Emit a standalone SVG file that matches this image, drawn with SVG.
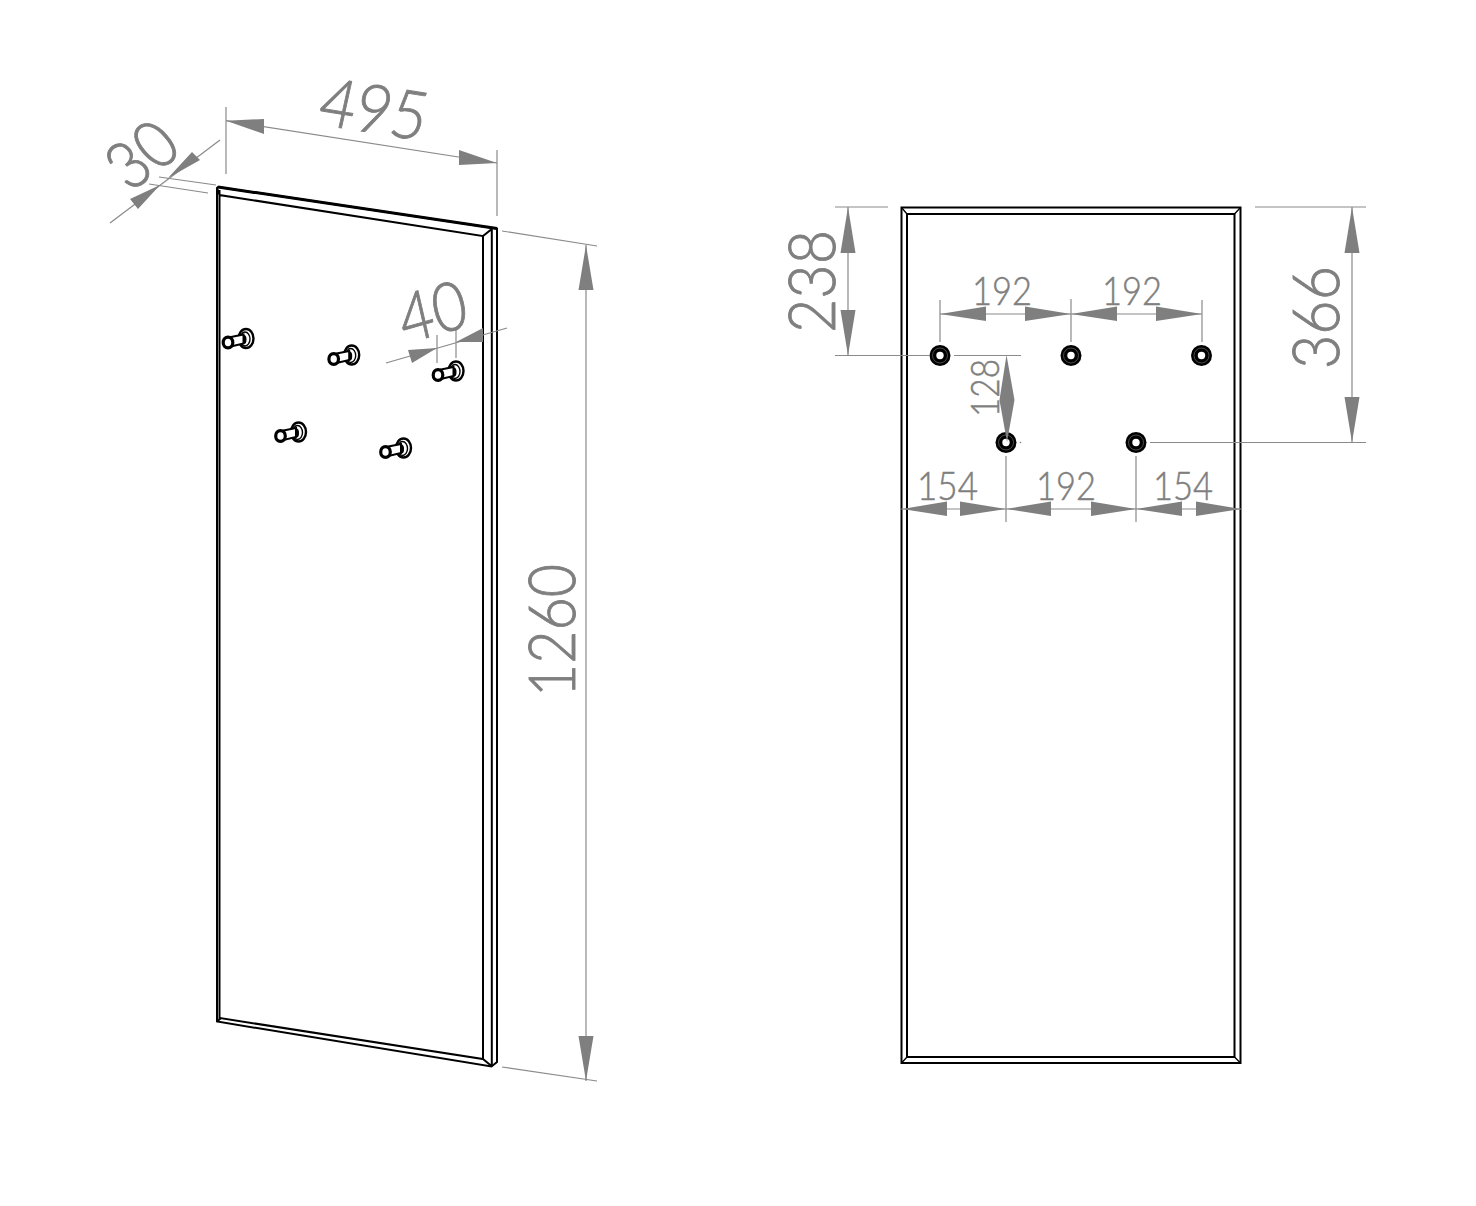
<svg xmlns="http://www.w3.org/2000/svg" width="1476" height="1206" viewBox="0 0 1476 1206">
<style>
.e{fill:none;stroke:#000;stroke-width:2;stroke-linejoin:miter}
.t{fill:none;stroke:#000;stroke-width:1.3}
.d{fill:none;stroke:#8a8a8a;stroke-width:1.2}
.a{fill:#7f7f7f;stroke:none}
text{font-family:"Lato","Open Sans",sans-serif;font-weight:300;fill:#7f7f7f;stroke:#7f7f7f}
.s{font-size:39px;stroke-width:.5px}
.b{font-size:66px;stroke-width:.9px}
.k{fill:#fff;stroke:#000;stroke-width:2.4}
</style>
<defs>
<g id="hook">
<ellipse class="k" cx="0" cy="0" rx="7.500" ry="9.500"/>
<ellipse cx="-1" cy="0.500" rx="5" ry="7" fill="none" stroke="#000" stroke-width="1.400"/>
<ellipse cx="-2" cy="1" rx="2.500" ry="4.500" fill="#000"/>
<path d="M-15 -1.500 L-2.500 -4 L-2.500 5 L-15 8 Z" fill="#fff" stroke="#000" stroke-width="2"/>
<ellipse cx="-18" cy="4" rx="4.800" ry="5.400" fill="#fff" stroke="#000" stroke-width="3.200"/>
</g>
<g id="hole">
<circle r="10.500" fill="#000"/>
<circle r="7.500" fill="none" stroke="#999" stroke-width=".5"/>
<circle r="3.700" fill="#fff"/>
</g>
</defs>
<g id="panel-perspective">
<path class="e" d="M217 188 L218 187 L497 228.500 V1062 L491.500 1066.500 L217 1021.500 Z"/>
<path class="e" style="stroke-width:3" d="M218 187 L497 228.500"/>
<path class="t" style="stroke-width:2" d="M219.500 190 V1018 L483 1059 V236 L219.500 195 L217 188"/>
<path class="t" style="stroke-width:2" d="M491.800 229 V1066 M483 236 L491.800 229 M483 1059 L491.500 1066 M217 1021.500 L221 1018"/>
</g>
<g id="hook-1"><use href="#hook" x="246" y="338.500"/></g>
<g id="hook-2"><use href="#hook" x="351.700" y="355"/></g>
<g id="hook-3"><use href="#hook" x="456" y="371"/></g>
<g id="hook-4"><use href="#hook" x="298.500" y="432"/></g>
<g id="hook-5"><use href="#hook" x="403.500" y="448"/></g>
<g id="panel-front">
<rect class="e" x="901.500" y="207.500" width="339" height="855.500"/>
<rect class="e" x="907" y="214" width="327.500" height="843"/>
<path class="t" d="M901.500 207.500 L907 214 M1240.500 207.500 L1234.500 214 M901.500 1063 L907 1057 M1240.500 1063 L1234.500 1057"/>
</g>
<g id="hole-1"><use href="#hole" x="940" y="355.500"/></g>
<g id="hole-2"><use href="#hole" x="1071" y="355.500"/></g>
<g id="hole-3"><use href="#hole" x="1201.500" y="355.500"/></g>
<g id="hole-4"><use href="#hole" x="1006" y="442.500"/></g>
<g id="hole-5"><use href="#hole" x="1136" y="442.500"/></g>
<g id="connectors">
<path class="d" d="M226 107 V174 M497 150 V216 M226 120.700 L497 163"/>
<path class="a" d="M226 120.700 L264 119 V134 Z M497 163 L459 150 V165 Z"/>
<path class="d" d="M110 223 L220 140 M159 177 L216 185 M149 184 L208 193"/>
<path class="a" d="M160 185 L130 199 L138 209 Z M168 178 L192 152 L200 160 Z"/>
<path class="d" d="M502 231 L597 246 M502 1067 L597 1081 M586 245 V1081"/>
<path class="a" d="M586 245 L593.500 290 H578.500 Z M586 1081 L578.500 1036 H593.500 Z"/>
<path class="d" d="M386 363 L507 328 M437 335 V363 M456 330 V358"/>
<path class="a" d="M437 348 L408 350 L412 363 Z M456 342 L483 328 V342 Z"/>
<path class="d" d="M835 207 H888 M835 355.500 H930 M954 355.500 H1021 M848 207 V355 M1255 207 H1366 M1150 442.500 H1366 M1352 207 V442"/>
<path class="a" d="M848 207 L855.500 253 H840.500 Z M848 355.500 L840.500 310 H855.500 Z M1352 207 L1359.500 253 H1344.500 Z M1352 442.500 L1344.500 397 H1359.500 Z"/>
<path class="d" d="M940 300 V342 M1071 299 V342 M1202 300 V342 M940 314 H1202"/>
<path class="a" d="M940 314 L986 306.500 V321 Z M1071 314 L1025 306.500 V321 Z M1071 314 L1117 306.500 V321 Z M1202 314 L1156 306.500 V321 Z"/>
<path class="a" d="M1006.500 355 L1014.500 400 L1007 442 L999.500 400 Z"/>
<circle class="a" cx="1020.500" cy="442.500" r="0.800"/>
<path class="d" d="M1006 456 V522 M1136 456 V522 M901 509 H1241"/>
<path class="a" d="M902 509 L947 501.500 V516 Z M1006 509 L960 501.500 V516 Z M1006 509 L1051 501.500 V516 Z M1136 509 L1091 501.500 V516 Z M1136 509 L1182 501.500 V516 Z M1241 509 L1196 501.500 V516 Z"/>
</g>
<g id="labels">
<text class="b" transform="matrix(1 .158 -.22 1 316 124)" textLength="106" lengthAdjust="spacingAndGlyphs">495</text>
<text class="b" transform="matrix(.8 -.6 .67 .77 130 193)" textLength="68" lengthAdjust="spacingAndGlyphs">30</text>
<text class="b" transform="matrix(.97 -.27 .23 1 405 344)" textLength="68" lengthAdjust="spacingAndGlyphs">40</text>
<text class="b" transform="translate(575 697) rotate(-90)" textLength="133" lengthAdjust="spacingAndGlyphs">1260</text>
<text class="b" transform="translate(835 333) rotate(-90)" textLength="103" lengthAdjust="spacingAndGlyphs">238</text>
<text class="b" transform="translate(1339 369) rotate(-90)" textLength="103" lengthAdjust="spacingAndGlyphs">366</text>
<text class="s" x="972" y="305" textLength="60" lengthAdjust="spacingAndGlyphs">192</text>
<text class="s" x="1102" y="305" textLength="60" lengthAdjust="spacingAndGlyphs">192</text>
<text class="s" x="917" y="500" textLength="61" lengthAdjust="spacingAndGlyphs">154</text>
<text class="s" x="1036" y="500" textLength="60" lengthAdjust="spacingAndGlyphs">192</text>
<text class="s" x="1153" y="500" textLength="60" lengthAdjust="spacingAndGlyphs">154</text>
<text class="s" transform="translate(999 417) rotate(-90)" textLength="58" lengthAdjust="spacingAndGlyphs">128</text>
</g>
</svg>
